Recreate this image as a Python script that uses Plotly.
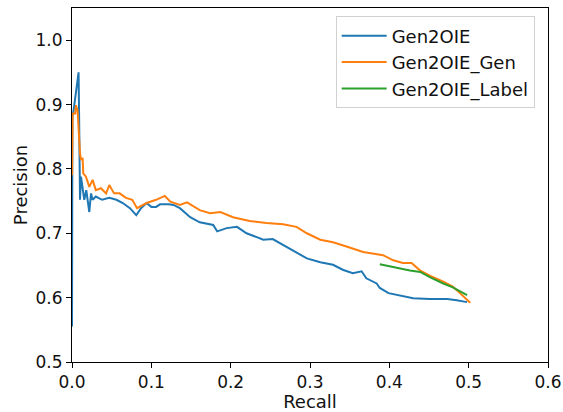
import plotly.graph_objects as go

# Gen2OIE (blue)
recall_base = [0.0, 0.0005, 0.002, 0.004, 0.007, 0.0083, 0.0092, 0.0101, 0.0113, 0.0134,
               0.0155, 0.018, 0.0218, 0.024, 0.026, 0.030, 0.038, 0.047, 0.056, 0.064,
               0.073, 0.081, 0.087, 0.094, 0.100, 0.106, 0.111, 0.122, 0.128, 0.136,
               0.149, 0.161, 0.178, 0.183, 0.195, 0.208, 0.220, 0.233, 0.241, 0.253,
               0.266, 0.283, 0.296, 0.313, 0.329, 0.342, 0.354, 0.365, 0.371, 0.384,
               0.388, 0.399, 0.413, 0.430, 0.451, 0.473, 0.485, 0.498]
prec_base = [0.555, 0.880, 0.891, 0.912, 0.943, 0.950, 0.855, 0.752, 0.788, 0.772,
             0.752, 0.767, 0.733, 0.762, 0.752, 0.757, 0.752, 0.755, 0.752, 0.747,
             0.739, 0.728, 0.739, 0.747, 0.741, 0.741, 0.745, 0.745, 0.744, 0.739,
             0.725, 0.717, 0.713, 0.703, 0.708, 0.710, 0.700, 0.694, 0.690, 0.691,
             0.682, 0.669, 0.661, 0.655, 0.651, 0.643, 0.638, 0.641, 0.630, 0.622,
             0.615, 0.607, 0.603, 0.599, 0.598, 0.598, 0.596, 0.593]

# Gen2OIE_Gen (orange)
recall_gen = [0.0, 0.0008, 0.004, 0.005, 0.007, 0.0083, 0.0101, 0.0113, 0.0134, 0.0142,
              0.0176, 0.0218, 0.026, 0.030, 0.0365, 0.043, 0.047, 0.053, 0.060, 0.068,
              0.076, 0.082, 0.094, 0.106, 0.117, 0.124, 0.136, 0.145, 0.161, 0.174,
              0.187, 0.203, 0.224, 0.245, 0.266, 0.283, 0.296, 0.313, 0.329, 0.347,
              0.367, 0.392, 0.405, 0.417, 0.428, 0.439, 0.451, 0.468, 0.480, 0.489,
              0.502]
prec_gen = [0.790, 0.886, 0.886, 0.899, 0.891, 0.855, 0.824, 0.814, 0.817, 0.793,
            0.788, 0.772, 0.783, 0.767, 0.770, 0.762, 0.775, 0.762, 0.762, 0.755,
            0.752, 0.739, 0.747, 0.752, 0.758, 0.749, 0.744, 0.748, 0.736, 0.731,
            0.733, 0.725, 0.719, 0.716, 0.714, 0.710, 0.700, 0.690, 0.686, 0.679,
            0.671, 0.666, 0.658, 0.654, 0.654, 0.642, 0.634, 0.625, 0.617, 0.607,
            0.592]

# Gen2OIE_Label (green)
recall_label = [0.388, 0.410, 0.426, 0.439, 0.451, 0.468, 0.480, 0.498]
prec_label = [0.652, 0.646, 0.642, 0.640, 0.632, 0.622, 0.616, 0.604]

x_ticks = [0.0, 0.1, 0.2, 0.3, 0.4, 0.5, 0.6]
y_ticks = [0.5, 0.6, 0.7, 0.8, 0.9, 1.0]

FONT = "DejaVu Sans"

fig = go.Figure()
fig.add_trace(go.Scatter(x=recall_base, y=prec_base, mode="lines", name="Gen2OIE",
                         line=dict(color="#1f77b4", width=2)))
fig.add_trace(go.Scatter(x=recall_gen, y=prec_gen, mode="lines", name="Gen2OIE_Gen",
                         line=dict(color="#ff7f0e", width=2)))
fig.add_trace(go.Scatter(x=recall_label, y=prec_label, mode="lines", name="Gen2OIE_Label",
                         line=dict(color="#2ca02c", width=2)))

axis_common = dict(showgrid=False, zeroline=False, showline=True, linecolor="black",
                   linewidth=1, mirror=True, ticks="outside", ticklen=5, tickwidth=1,
                   tickcolor="black", tickfont=dict(family=FONT, size=17, color="#111"),
                   automargin=False)

fig.update_layout(
    width=563, height=412,
    margin=dict(l=72, r=15, t=8, b=50),
    paper_bgcolor="white", plot_bgcolor="white",
    font=dict(family=FONT, size=17, color="#111"),
    xaxis=dict(range=[0, 0.6], tickvals=x_ticks, tickformat=".1f",
               title=dict(text="Recall", font=dict(family=FONT, size=18), standoff=6),
               **axis_common),
    yaxis=dict(range=[0.5, 1.05], tickvals=y_ticks, tickformat=".1f",
               title=dict(text="Precision", font=dict(family=FONT, size=18), standoff=3),
               **axis_common),
    legend=dict(x=0.972, y=0.976, xanchor="right", yanchor="top",
                bgcolor="rgba(255,255,255,0.8)", bordercolor="#d0d0d0", borderwidth=1,
                font=dict(family=FONT, size=18), tracegroupgap=2, itemwidth=45),
    showlegend=True,
)

fig.write_html("out.html")
